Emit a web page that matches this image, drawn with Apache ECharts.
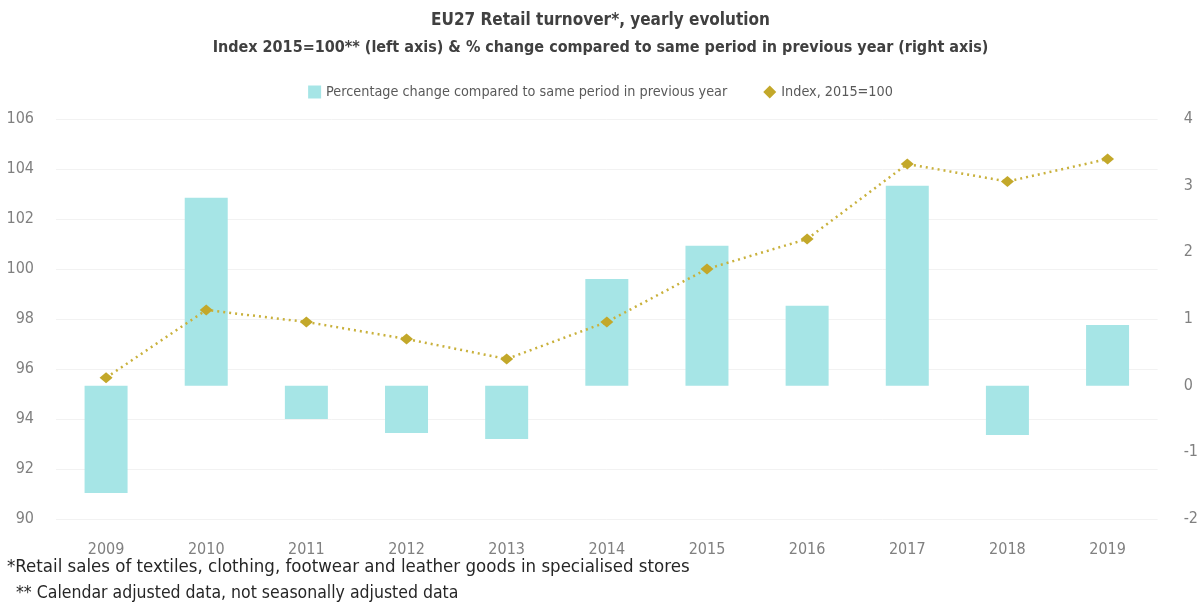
<!DOCTYPE html>
<html>
<head>
<meta charset="utf-8">
<script src="https://cdn.jsdelivr.net/npm/echarts@6/dist/echarts.min.js"></script>
<style>
  html, body { margin: 0; padding: 0; background: #fff; }
  #chart { width: 1201px; height: 616px; }
</style>
</head>
<body>
<div id="chart"></div>
<script>
// Years on the category axis
const years = ['2009', '2010', '2011', '2012', '2013', '2014', '2015', '2016', '2017', '2018', '2019'];
// % change compared to same period in previous year (right axis)
const pctChange = [-1.61, 2.82, -0.5, -0.71, -0.8, 1.6, 2.1, 1.2, 3.0, -0.74, 0.91];
// Index, 2015=100 (left axis)
const indexValues = [95.65, 98.36, 97.88, 97.2, 96.4, 97.88, 100.0, 101.2, 104.2, 103.5, 104.4];

const font = '"Liberation Sans Narrow", "DejaVu Sans Condensed", "Open Sans", sans-serif';

const chart = echarts.init(document.getElementById('chart'));
chart.setOption({
  animation: false,
  backgroundColor: '#ffffff',
  title: [
    {
      text: 'EU27 Retail turnover*, yearly evolution',
      left: 'center', top: 7,
      textStyle: { fontFamily: font, fontSize: 17, fontWeight: 'bold', color: '#404040' }
    },
    {
      text: 'Index 2015=100** (left axis) & % change compared to same period in previous year (right axis)',
      left: 'center', top: 35,
      textStyle: { fontFamily: font, fontSize: 16, fontWeight: 'bold', color: '#404040' }
    },
    {
      text: '*Retail sales of textiles, clothing, footwear and leather goods in specialised stores',
      left: 2, top: 553,
      textStyle: { fontFamily: font, fontSize: 18.5, fontWeight: 'normal', color: '#262626' }
    },
    {
      text: ' ** Calendar adjusted data, not seasonally adjusted data',
      left: 6, top: 579,
      textStyle: { fontFamily: font, fontSize: 17.5, fontWeight: 'normal', color: '#262626' }
    }
  ],
  legend: {
    top: 80, left: 'center',
    itemGap: 36,
    itemWidth: 13, itemHeight: 13,
    textStyle: { fontFamily: font, fontSize: 14.3, color: '#595959' },
    data: [
      { name: 'Percentage change compared to same period in previous year', icon: 'rect' },
      { name: 'Index, 2015=100', icon: 'diamond' }
    ]
  },
  grid: { left: 56, right: 39, top: 119, bottom: 97, containLabel: false },
  xAxis: {
    type: 'category',
    data: years,
    axisLine: { show: false },
    axisTick: { show: false },
    axisLabel: { fontFamily: font, fontSize: 16, color: '#808080', margin: 23 }
  },
  yAxis: [
    {
      type: 'value', min: 90, max: 106, interval: 2,
      axisLine: { show: false }, axisTick: { show: false },
      axisLabel: { fontFamily: font, fontSize: 16, color: '#808080', margin: 22 },
      splitLine: { lineStyle: { color: '#f2f2f2', width: 1 } }
    },
    {
      type: 'value', min: -2, max: 4, interval: 1,
      axisLine: { show: false }, axisTick: { show: false },
      axisLabel: { fontFamily: font, fontSize: 16, color: '#808080', margin: 26 },
      splitLine: { show: false }
    }
  ],
  series: [
    {
      name: 'Percentage change compared to same period in previous year',
      type: 'bar',
      yAxisIndex: 1,
      data: pctChange,
      barWidth: 43,
      itemStyle: { color: '#a6e5e6' }
    },
    {
      name: 'Index, 2015=100',
      type: 'line',
      yAxisIndex: 0,
      data: indexValues,
      symbol: 'diamond',
      symbolSize: [13, 11],
      itemStyle: { color: '#c3a82a' },
      lineStyle: { color: '#c9b13c', width: 2.5, type: [2, 4] },
      z: 5
    }
  ]
});
</script>
</body>
</html>
